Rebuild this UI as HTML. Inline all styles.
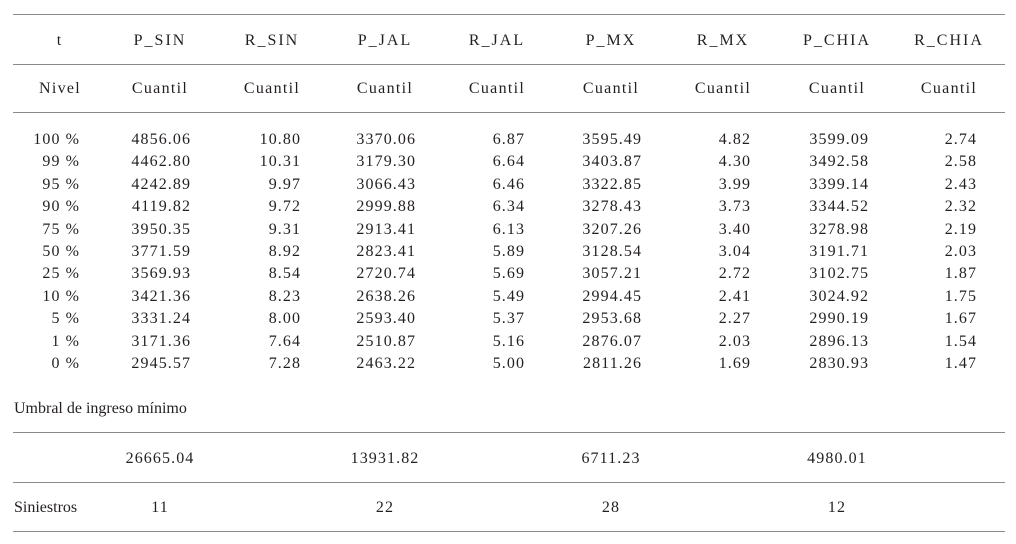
<!DOCTYPE html>
<html><head><meta charset="utf-8"><style>
body{margin:0;width:1016px;height:544px;background:#fff;position:relative;overflow:hidden;font-family:"Liberation Serif",serif;font-size:16px;color:#231f20}
.l{position:absolute;left:13px;width:992px;height:1px;background:#8a8a8a}
.c{position:absolute;transform:translate(-50%,-50%);white-space:nowrap}
.r{position:absolute;transform:translateY(-50%);white-space:nowrap;text-align:right;letter-spacing:1.1px;margin-right:-1.1px}
.t{position:absolute;transform:translateY(-50%);white-space:nowrap}
.hd{letter-spacing:2px}
.cu{letter-spacing:1.3px}
.n{letter-spacing:1.1px}
</style></head><body>
<div class="l" style="top:14px"></div>
<div class="l" style="top:64px"></div>
<div class="l" style="top:112px"></div>
<div class="l" style="top:432px"></div>
<div class="l" style="top:482px"></div>
<div class="l" style="top:531px"></div>
<div id="h"></div>
<script>
var cx=[60,160,272,385,497,611,723,837,949];
var hd=["t","P_SIN","R_SIN","P_JAL","R_JAL","P_MX","R_MX","P_CHIA","R_CHIA"];
var re=[79,190,300,415,524,641,750,868,976];
var rows=[
["100 %","4856.06","10.80","3370.06","6.87","3595.49","4.82","3599.09","2.74"],
["99 %","4462.80","10.31","3179.30","6.64","3403.87","4.30","3492.58","2.58"],
["95 %","4242.89","9.97","3066.43","6.46","3322.85","3.99","3399.14","2.43"],
["90 %","4119.82","9.72","2999.88","6.34","3278.43","3.73","3344.52","2.32"],
["75 %","3950.35","9.31","2913.41","6.13","3207.26","3.40","3278.98","2.19"],
["50 %","3771.59","8.92","2823.41","5.89","3128.54","3.04","3191.71","2.03"],
["25 %","3569.93","8.54","2720.74","5.69","3057.21","2.72","3102.75","1.87"],
["10 %","3421.36","8.23","2638.26","5.49","2994.45","2.41","3024.92","1.75"],
["5 %","3331.24","8.00","2593.40","5.37","2953.68","2.27","2990.19","1.67"],
["1 %","3171.36","7.64","2510.87","5.16","2876.07","2.03","2896.13","1.54"],
["0 %","2945.57","7.28","2463.22","5.00","2811.26","1.69","2830.93","1.47"]];
var h="";
for(var i=0;i<9;i++){h+='<div class="c hd" style="left:'+cx[i]+'px;top:41px">'+hd[i]+'</div>';
h+='<div class="c cu" style="left:'+cx[i]+'px;top:89px">'+(i?'Cuantil':'Nivel')+'</div>';}
for(var j=0;j<rows.length;j++){var y=140+j*22.4;for(var i=0;i<9;i++){
h+='<div class="r" style="right:'+(1016-re[i])+'px;top:'+y+'px">'+rows[j][i]+'</div>';}}
h+='<div class="t" style="left:14px;top:409px">Umbral de ingreso mínimo</div>';
var u=["26665.04","13931.82","6711.23","4980.01"],s=["11","22","28","12"],uc=[160,385,611,837];
for(var k=0;k<4;k++){h+='<div class="c n" style="left:'+uc[k]+'px;top:459px">'+u[k]+'</div>';
h+='<div class="c n" style="left:'+uc[k]+'px;top:508px">'+s[k]+'</div>';}
h+='<div class="t" style="left:14px;top:508px">Siniestros</div>';
document.getElementById("h").innerHTML=h;
</script>
</body></html>
